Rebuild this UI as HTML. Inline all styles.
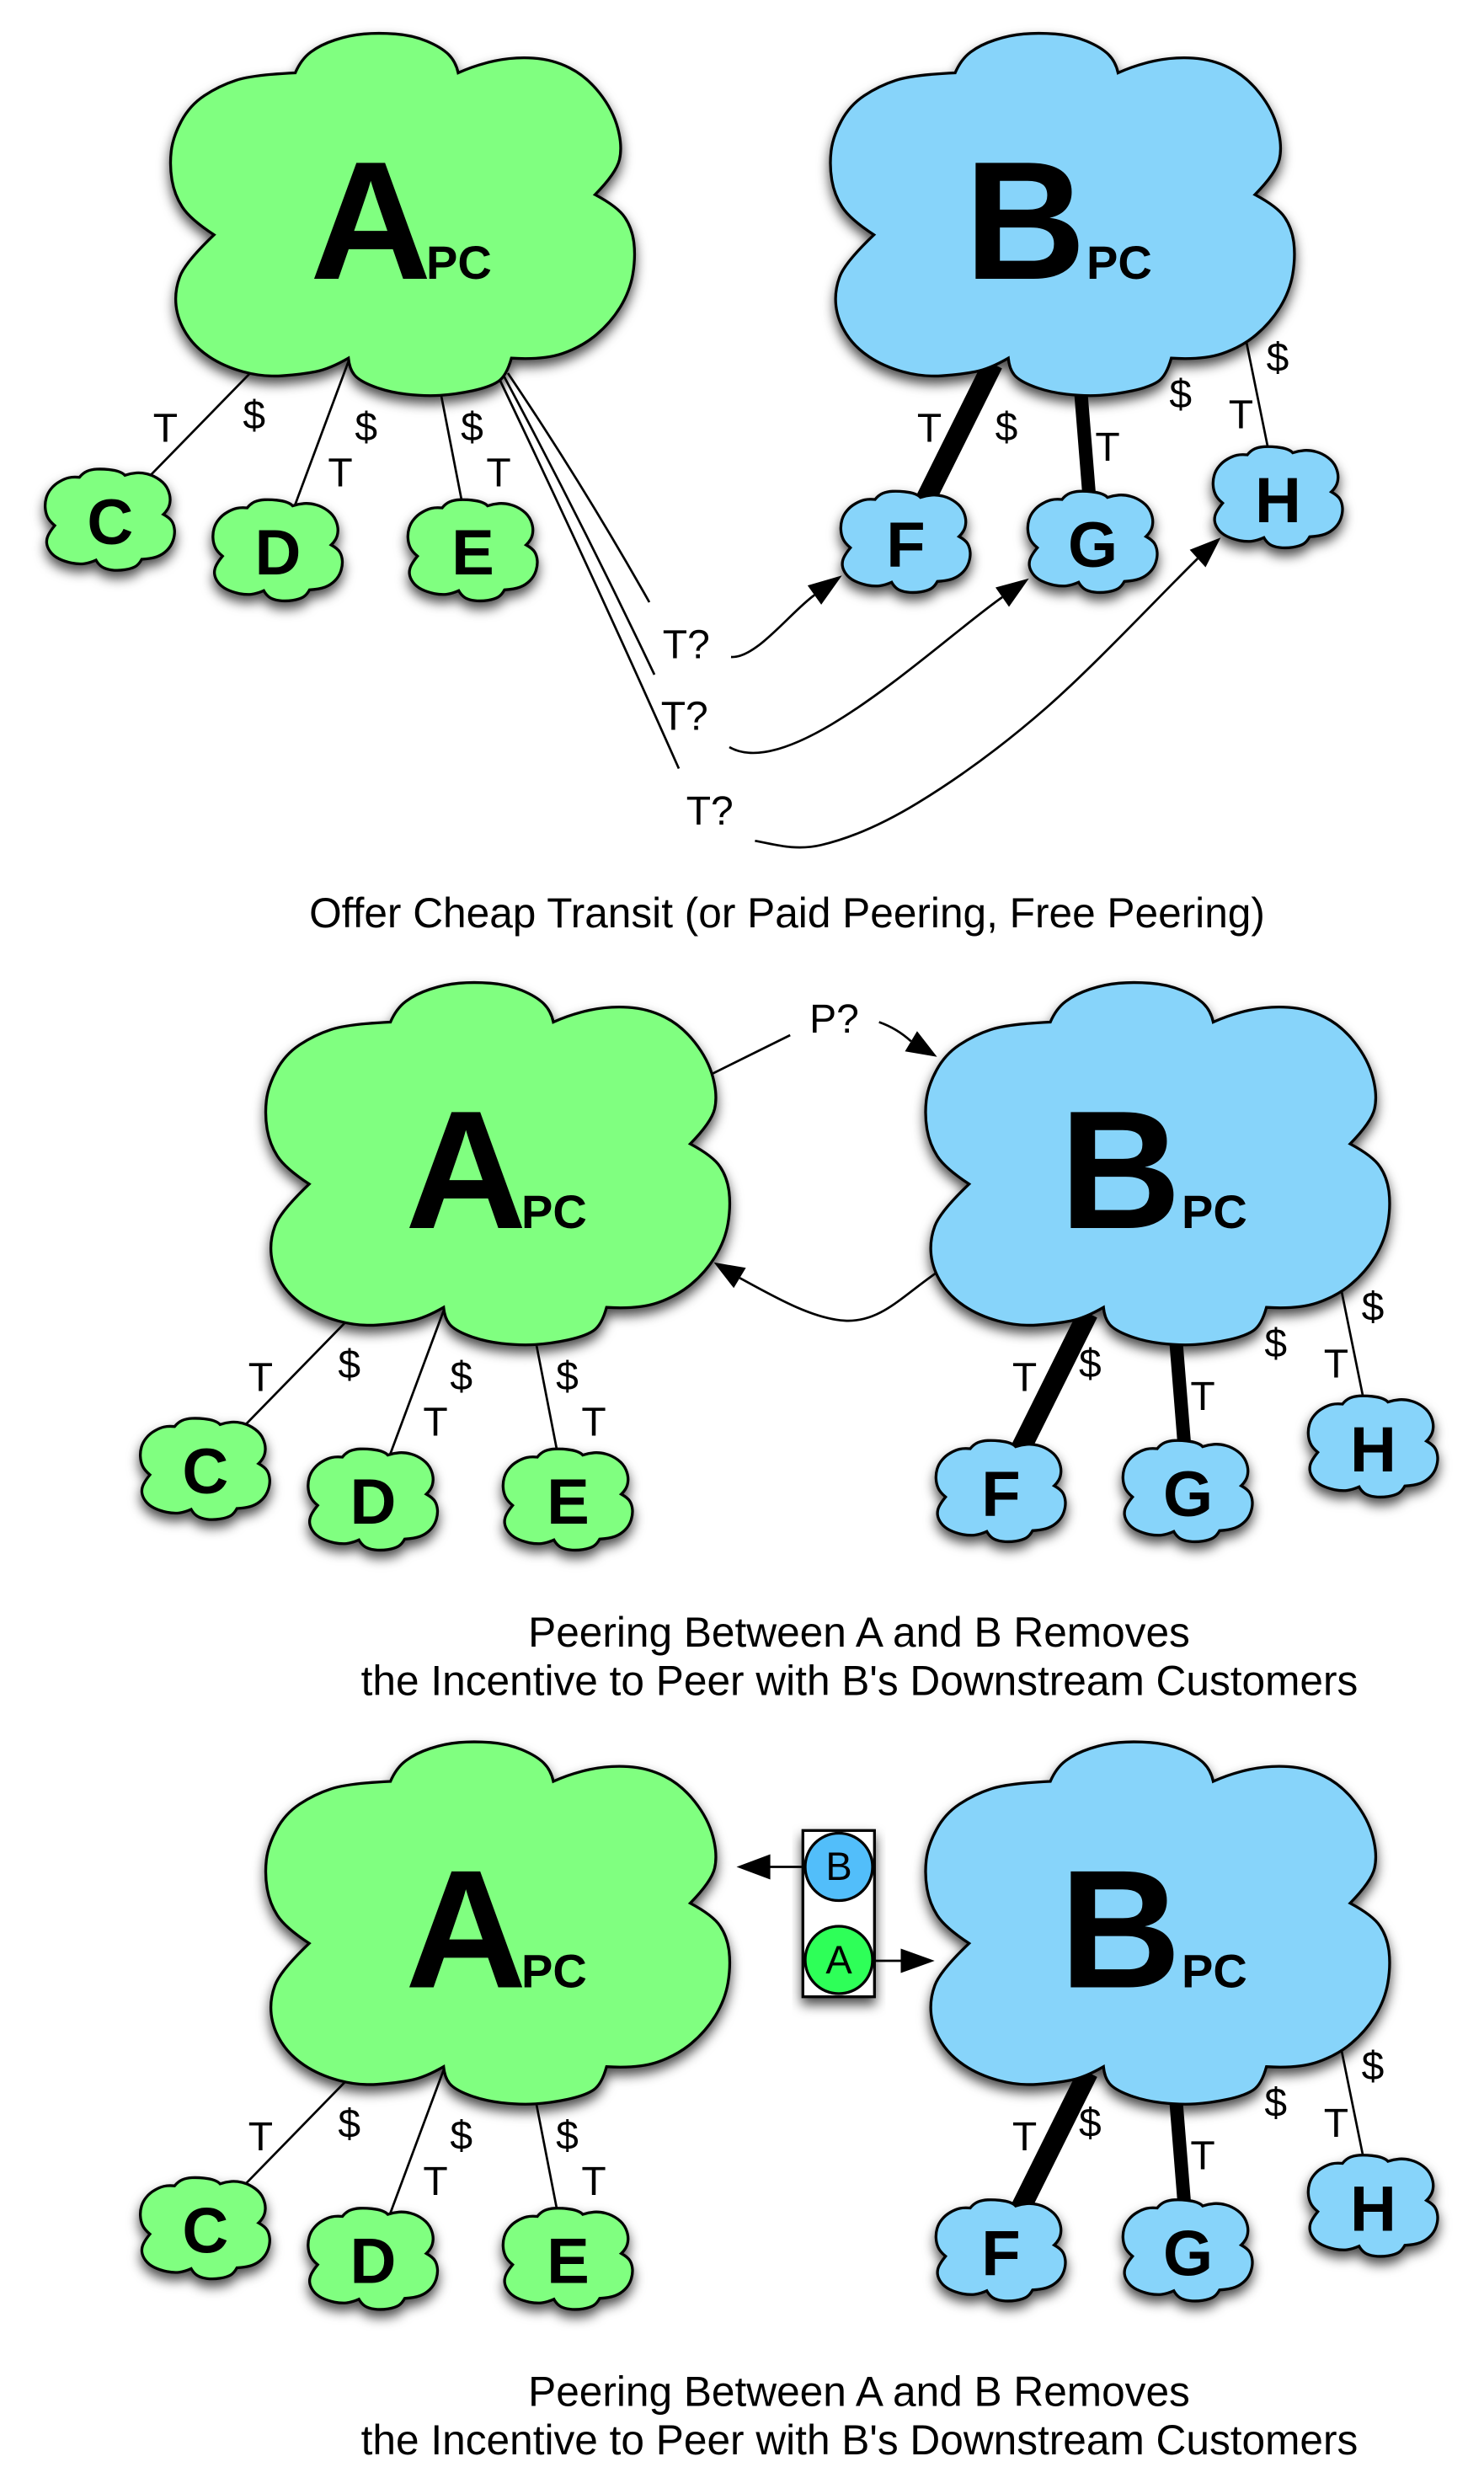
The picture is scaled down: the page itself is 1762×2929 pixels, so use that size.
<!DOCTYPE html>
<html><head><meta charset="utf-8">
<style>
html,body{margin:0;padding:0;background:#fff}
svg{display:block}
text{font-family:"Liberation Sans",Arial,Helvetica,sans-serif;fill:#000}
.l{font-size:48px;text-anchor:middle}
.s{font-size:76px;font-weight:bold;text-anchor:middle}
.big{font-size:200px;font-weight:bold}
.pc{font-size:56px;font-weight:bold}
.cap{font-size:49.6px;text-anchor:middle}
.tl{font-size:47px;text-anchor:middle}
</style></head>
<body>
<svg width="1762" height="2929" viewBox="0 0 1762 2929" xmlns="http://www.w3.org/2000/svg">
<defs>
<filter id="ds" x="-15%" y="-15%" width="130%" height="145%">
<feDropShadow dx="0" dy="8" stdDeviation="7" flood-color="#000" flood-opacity="0.7"/>
</filter>
<path id="big" d="M150.6,47.5 Q157.5,31.4 169,22.8 Q180.4,14.2 197.7,8.5 Q214.9,2.7 232.1,1.3 Q249.3,-0.2 269.4,1.3 Q289.5,2.7 306.7,9.9 Q323.9,17.1 332.6,25.7 Q341.2,34.3 344,47.5 Q364,38.3 387,33.4 Q410,28.5 433,30 Q456,31.4 476.1,41.5 Q496.2,51.5 512,71.6 Q527.8,91.7 533.5,113.2 Q539.2,134.7 535.5,150.5 Q531.8,166.3 506.5,192.1 Q533.5,206.5 542.1,219.4 Q550.7,232.3 552.7,249.6 Q554.7,266.8 551.3,286.9 Q547.8,307 536.4,325.7 Q524.9,344.3 507.7,358.7 Q490.4,373 467.5,380.8 Q444.5,388.5 407.2,386.2 Q401.4,407.4 391.4,414 Q381.3,420.6 361.3,424.9 Q341.2,429.2 322.6,430.4 Q303.9,431.5 282.4,429 Q260.8,426.4 243.6,419.8 Q226.4,413.2 220.7,406 Q214.9,398.8 213.7,386.2 Q191.9,398.8 174.7,402.3 Q157.5,405.7 134.6,407.2 Q111.6,408.6 88.6,402.3 Q65.6,396 48.4,384.5 Q31.2,373 21.2,357.2 Q11.1,341.4 9.1,324.2 Q7.1,307 13.4,289.8 Q19.7,272.5 54.1,239.8 Q25.4,220.9 16.3,206.5 Q7.1,192.1 4.2,174.9 Q1.3,157.7 3.3,140.5 Q5.3,123.3 15.4,104.7 Q25.4,86 42.7,74.5 Q59.9,63 80,56.4 Q100,49.8 150.6,47.5 Z"/>
<path id="sm" d="M41,10 Q45,5 50,2.8 Q55,0.6 61.7,0.3 Q68.4,0 75.9,0.8 Q83.4,1.6 88,3.3 Q92.7,5 95,7.6 Q101.7,5.3 108.4,4.8 Q115,4.3 122.5,6.3 Q130,8.3 136.7,13.3 Q143.4,18.3 146.2,25 Q149,31.6 148.7,37.5 Q148.4,43.3 145.9,47.5 Q143.4,51.6 140.7,54 Q148.4,58.3 150.9,62.5 Q153.4,66.6 153.9,72.5 Q154.4,78.3 152.2,85 Q150,91.6 145,96.6 Q140,101.6 133.4,104.1 Q126.7,106.6 115,107.3 Q111.7,113.3 107.6,115.8 Q103.4,118.3 95,119.7 Q86.7,121 79.2,120 Q71.7,119 67.6,116.2 Q63.4,113.3 60.7,108.3 Q53.4,111.6 46.7,112.5 Q40,113.3 31.7,111.7 Q23.4,110 16.7,106.7 Q10,103.3 6.4,98.3 Q2.7,93.3 2.2,88.3 Q1.7,83.3 4.2,78.3 Q6.7,73.3 11.7,67.3 Q5,61.6 2.9,56.6 Q0.7,51.6 0.4,45.8 Q0,40 1.7,34.2 Q3.4,28.3 7.6,23.3 Q11.7,18.3 17.6,15 Q23.4,11.6 28.4,10.5 Q33.4,9.3 41,10 Z"/>
<g id="diag">
<g stroke="#000" fill="none" stroke-width="2.7">
<path d="M300.5,439.4 L174.5,568.6"/>
<path d="M416,423 L349,603"/>
<path d="M523,465 L548.5,596"/>
<path d="M1479.5,404 L1505.7,533"/>
<path d="M1179,432 L1098,595" stroke-width="24"/>
<path d="M1283.3,465 L1293.5,592" stroke-width="16"/>
</g>
<g stroke="#000" stroke-width="3.3" filter="url(#ds)">
<use href="#big" transform="translate(200,39)" fill="#80FF80"/>
<use href="#big" transform="translate(983.5,39)" fill="#87D4FA"/>
<use href="#sm" transform="translate(53.3,556.7)" fill="#80FF80"/>
<use href="#sm" transform="translate(252.5,593)" fill="#80FF80"/>
<use href="#sm" transform="translate(484,593)" fill="#80FF80"/>
<use href="#sm" transform="translate(998,583)" fill="#87D4FA"/>
<use href="#sm" transform="translate(1220,583)" fill="#87D4FA"/>
<use href="#sm" transform="translate(1440,530)" fill="#87D4FA"/>
</g>
</g>
</defs>

<!-- ============ TOP DIAGRAM ============ -->
<g stroke="#000" fill="none" stroke-width="2.7">
<path d="M603,443 Q692,575 771,715"/>
<path d="M598,446 Q690,618 777,801"/>
<path d="M592,448 Q701,676 806,912.5"/>
<path d="M868,780 C898,782 938.5,726.8 967,706.5"/>
<path d="M866,887 C940,930 1112.3,763.6 1190,709"/>
<path d="M896.4,998.3 C916.2,1001.4 942.6,1010.8 974.8,1003.3 C1007,995.8 1044.95,980.5 1089.6,953.3 C1134.25,926.1 1187.3,888.4 1242.7,840 C1298.1,791.6 1380.1,704.1 1422,663.1"/>
</g>
<g fill="#000">
<polygon points="999.7,683.3 975.1,717.9 958.9,695.1"/>
<polygon points="1221.7,686.7 1198,720.5 1182,697.5"/>
<polygon points="1449.4,638.3 1431.4,673.5 1412.6,652.7"/>
</g>
<use href="#diag"/>
<g>
<text class="big" x="368" y="331">A</text><text class="pc" x="506" y="331">PC</text>
<text class="big" x="1145" y="331">B</text><text class="pc" x="1290" y="331">PC</text>
<text class="s" x="130.8" y="646">C</text>
<text class="s" x="330" y="682">D</text>
<text class="s" x="561.5" y="682">E</text>
<text class="s" x="1075.5" y="672.5">F</text>
<text class="s" x="1297.5" y="673">G</text>
<text class="s" x="1517.5" y="620">H</text>
<text class="l" x="196.4" y="524.7">T</text>
<text class="l" x="301.7" y="509">$</text>
<text class="l" x="434.7" y="523">$</text>
<text class="l" x="404" y="577.5">T</text>
<text class="l" x="560.5" y="523">$</text>
<text class="l" x="592" y="577.5">T</text>
<text class="l" x="1103.5" y="524.7">T</text>
<text class="l" x="1195" y="523">$</text>
<text class="l" x="1315" y="547">T</text>
<text class="l" x="1401.7" y="484">$</text>
<text class="l" x="1473.4" y="508.6">T</text>
<text class="l" x="1517" y="440.5">$</text>
<text class="l" x="814.8" y="781.7">T?</text>
<text class="l" x="812.7" y="866.5">T?</text>
<text class="l" x="842.7" y="979">T?</text>
</g>
<text class="cap" x="934.5" y="1101">Offer Cheap Transit (or Paid Peering, Free Peering)</text>

<!-- ============ MIDDLE DIAGRAM ============ -->
<g stroke="#000" fill="none" stroke-width="2.7">
<path d="M842.5,1276.4 L938.2,1229"/>
<path d="M1043.7,1213.5 Q1065,1221 1081.7,1236.3"/>
<path d="M1112,1511 C1070,1540 1045,1570 1003.5,1568 C965,1566 920,1540 878.4,1517.3"/>
</g>
<g fill="#000">
<polygon points="1112.6,1254.8 1074.5,1248.3 1088.9,1224.3"/>
<polygon points="847.5,1498.8 885.6,1505.3 871.2,1529.3"/>
</g>
<use href="#diag" transform="translate(113,1127)"/>
<g transform="translate(113,1127)">
<text class="big" x="368" y="331">A</text><text class="pc" x="506" y="331">PC</text>
<text class="big" x="1145" y="331">B</text><text class="pc" x="1290" y="331">PC</text>
<text class="s" x="130.8" y="646">C</text>
<text class="s" x="330" y="682">D</text>
<text class="s" x="561.5" y="682">E</text>
<text class="s" x="1075.5" y="672.5">F</text>
<text class="s" x="1297.5" y="673">G</text>
<text class="s" x="1517.5" y="620">H</text>
<text class="l" x="196.4" y="524.7">T</text>
<text class="l" x="301.7" y="509">$</text>
<text class="l" x="434.7" y="523">$</text>
<text class="l" x="404" y="577.5">T</text>
<text class="l" x="560.5" y="523">$</text>
<text class="l" x="592" y="577.5">T</text>
<text class="l" x="1103.5" y="524.7">T</text>
<text class="l" x="1181.3" y="508">$</text>
<text class="l" x="1315" y="547">T</text>
<text class="l" x="1401.7" y="484">$</text>
<text class="l" x="1473.4" y="508.6">T</text>
<text class="l" x="1517" y="440.5">$</text>
</g>
<text class="l" x="990.5" y="1226">P?</text>
<text class="cap" x="1020" y="1955.2">Peering Between A and B Removes</text>
<text class="cap" x="1020.5" y="2012.6">the Incentive to Peer with B's Downstream Customers</text>

<!-- ============ BOTTOM DIAGRAM ============ -->
<use href="#diag" transform="translate(113,2028.5)"/>
<g transform="translate(113,2028.5)">
<text class="big" x="368" y="331">A</text><text class="pc" x="506" y="331">PC</text>
<text class="big" x="1145" y="331">B</text><text class="pc" x="1290" y="331">PC</text>
<text class="s" x="130.8" y="646">C</text>
<text class="s" x="330" y="682">D</text>
<text class="s" x="561.5" y="682">E</text>
<text class="s" x="1075.5" y="672.5">F</text>
<text class="s" x="1297.5" y="673">G</text>
<text class="s" x="1517.5" y="620">H</text>
<text class="l" x="196.4" y="524.7">T</text>
<text class="l" x="301.7" y="509">$</text>
<text class="l" x="434.7" y="523">$</text>
<text class="l" x="404" y="577.5">T</text>
<text class="l" x="560.5" y="523">$</text>
<text class="l" x="592" y="577.5">T</text>
<text class="l" x="1103.5" y="524.7">T</text>
<text class="l" x="1181.3" y="508">$</text>
<text class="l" x="1315" y="547">T</text>
<text class="l" x="1401.7" y="484">$</text>
<text class="l" x="1473.4" y="508.6">T</text>
<text class="l" x="1517" y="440.5">$</text>
</g>
<!-- traffic light -->
<g stroke="#000" stroke-width="2.7" fill="none">
<path d="M955,2216.5 L912,2216.5"/>
<path d="M1038,2328 L1072,2328"/>
</g>
<g fill="#000">
<polygon points="874.5,2216.5 914.6,2201.5 914.6,2231.5"/>
<polygon points="1109.7,2328 1069.5,2313.5 1069.5,2342.5"/>
</g>
<g filter="url(#ds)">
<rect x="953.3" y="2173.3" width="85" height="197.4" fill="#fff" stroke="#000" stroke-width="3.3"/>
</g>
<circle cx="996" cy="2216.5" r="40" fill="#52BEFA" stroke="#000" stroke-width="3.3"/>
<circle cx="996" cy="2327" r="40" fill="#2EFF58" stroke="#000" stroke-width="3.3"/>
<text class="tl" x="996" y="2232">B</text>
<text class="tl" x="996" y="2343">A</text>
<text class="cap" x="1020" y="2856.7">Peering Between A and B Removes</text>
<text class="cap" x="1020.5" y="2914.1">the Incentive to Peer with B's Downstream Customers</text>
</svg>
</body></html>
